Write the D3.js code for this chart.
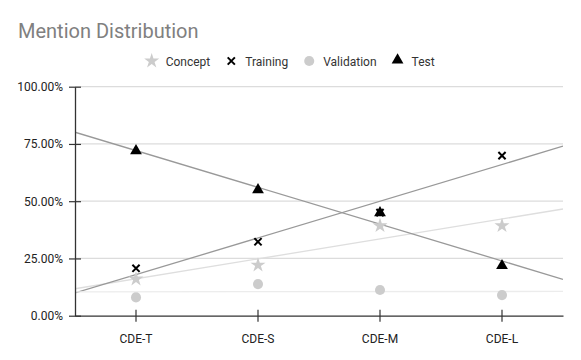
<!DOCTYPE html>
<html>
<head>
<meta charset="utf-8">
<script src="https://cdn.jsdelivr.net/npm/d3@7"></script>
<style>
  html, body { margin: 0; padding: 0; background: #fff; }
  svg { display: block; font-family: Roboto, "Noto Sans", sans-serif; }
</style>
</head>
<body>
<svg id="chart" width="581" height="360"></svg>
<script>
// categories and per-series shares (fraction of mentions)
const categories = ['CDE-T', 'CDE-S', 'CDE-M', 'CDE-L'];
const concept    = [0.160, 0.221, 0.393, 0.393];
const training   = [0.207, 0.323, 0.450, 0.699];
const validation = [0.080, 0.138, 0.112, 0.090];
const test       = [0.716, 0.545, 0.445, 0.214];
const yTicks     = [0, 0.25, 0.5, 0.75, 1];

const series = [
  { name: 'Concept',    values: concept,    shape: 'star',     color: '#cccccc', trend: '#dedede' },
  { name: 'Training',   values: training,   shape: 'x',        color: '#000000', trend: '#999999' },
  { name: 'Validation', values: validation, shape: 'circle',   color: '#cccccc', trend: '#ececec' },
  { name: 'Test',       values: test,       shape: 'triangle', color: '#000000', trend: '#999999' }
];

const svg = d3.select('#chart');
const plotL = 75, plotR = 563, plotT = 86.7, plotB = 315.7;

const x = d3.scaleBand().domain(categories).range([plotL, plotR]).padding(0);
const xi = d3.scaleLinear().domain([-0.5, categories.length - 0.5]).range([plotL, plotR]);
const y = d3.scaleLinear().domain([0, 1]).range([plotB, plotT]);

function drawMark(g, shape, color, cx, cy){
  if(shape === 'x'){
    g.append('path').attr('d', 'M-3.6,-3.6L3.6,3.6M-3.6,3.6L3.6,-3.6')
      .attr('stroke', color).attr('stroke-width', 2).attr('fill', 'none')
      .attr('transform', `translate(${cx},${cy})`);
    return;
  }
  const type = shape === 'star' ? d3.symbolStar : shape === 'triangle' ? d3.symbolTriangle : d3.symbolCircle;
  const size = shape === 'star' ? 70 : shape === 'triangle' ? 60 : 80;
  g.append('path').attr('d', d3.symbol(type, size)()).attr('fill', color)
    .attr('transform', `translate(${cx},${shape === 'triangle' ? cy - 1 : cy})`);
}

// title
svg.append('text').attr('x', 18).attr('y', 38)
  .attr('font-size', 20).attr('fill', '#808080').text('Mention Distribution');

// legend
const legend = svg.append('g');
let cx = 151.7;
series.forEach(s => {
  drawMark(legend, s.shape, s.color, cx, 61);
  const t = legend.append('text').attr('x', cx + 14).attr('y', 65.5)
    .attr('font-size', 12).attr('fill', '#333').text(s.name);
  cx = cx + 14 + t.node().getComputedTextLength() + 21;
});

// gridlines
svg.append('g').selectAll('line').data(yTicks.filter(d => d > 0)).join('line')
  .attr('x1', plotL).attr('x2', plotR)
  .attr('y1', d => y(d)).attr('y2', d => y(d))
  .attr('stroke', '#dcdcdc').attr('stroke-width', 1.2);

// linear trendlines (least squares on category index)
svg.append('clipPath').attr('id', 'plot')
  .append('rect').attr('x', plotL).attr('y', plotT).attr('width', plotR - plotL).attr('height', plotB - plotT);
const trends = svg.append('g').attr('clip-path', 'url(#plot)');
series.forEach(s => {
  const n = s.values.length;
  const mx = d3.mean(s.values, (v, i) => i), my = d3.mean(s.values);
  const slope = d3.sum(s.values, (v, i) => (i - mx) * (v - my)) / d3.sum(s.values, (v, i) => (i - mx) * (i - mx));
  const f = i => my + slope * (i - mx);
  trends.append('line')
    .attr('x1', xi(-0.5)).attr('y1', y(f(-0.5)))
    .attr('x2', xi(n - 0.5)).attr('y2', y(f(n - 0.5)))
    .attr('stroke', s.trend).attr('stroke-width', 1.3);
});

// axes
const yAxis = svg.append('g').attr('transform', `translate(${plotL},0)`)
  .call(d3.axisLeft(y).tickValues(yTicks).tickFormat(d3.format('.2%')).tickSizeInner(6).tickSizeOuter(0).tickPadding(6));
yAxis.selectAll('.tick line').attr('x1', 6);
const xAxis = svg.append('g').attr('transform', `translate(0,${plotB})`)
  .call(d3.axisBottom(x).tickSizeInner(6).tickSizeOuter(0).tickPadding(13));
xAxis.selectAll('.tick line').attr('y1', -6);
[yAxis, xAxis].forEach(a => {
  a.select('.domain').attr('stroke', '#333').attr('stroke-width', 1.3);
  a.selectAll('.tick line').attr('stroke', '#333').attr('stroke-width', 1.2);
  a.selectAll('text').attr('font-size', 12).attr('fill', '#222').attr('font-family', 'Roboto, sans-serif');
});

// markers
const marks = svg.append('g');
series.forEach(s => {
  s.values.forEach((v, i) => {
    drawMark(marks, s.shape, s.color, x(categories[i]) + x.bandwidth() / 2, y(v));
  });
});
</script>
</body>
</html>
